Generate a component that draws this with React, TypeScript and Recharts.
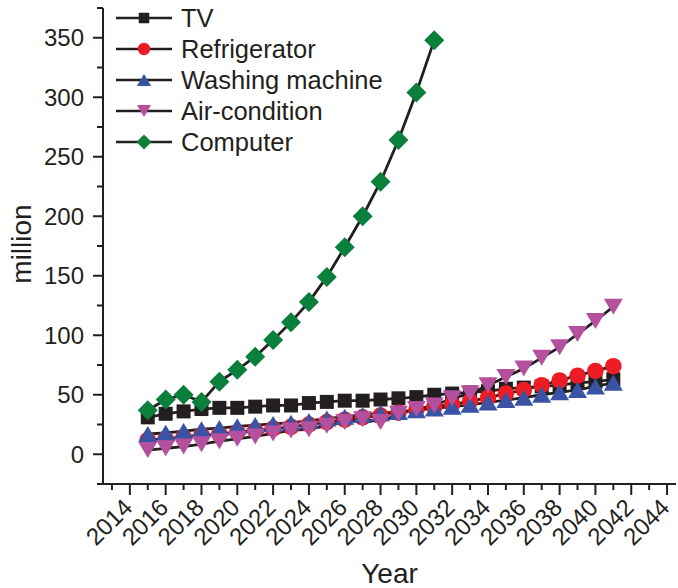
import React from 'react';
import { LineChart, Line, XAxis, YAxis, Legend } from 'recharts';

const years = [
  2015, 2016, 2017, 2018, 2019, 2020, 2021, 2022, 2023, 2024, 2025, 2026, 2027, 2028,
  2029, 2030, 2031, 2032, 2033, 2034, 2035, 2036, 2037, 2038, 2039, 2040, 2041,
];
const tv = [31, 34, 36, 38, 39, 39, 40, 41, 41, 43, 44, 45, 45, 46, 47, 48, 50, 51, 52, 53, 55, 56, 57, 58, 60, 61, 63];
const refrigerator = [12, 13, 14.5, 16, 17, 18.5, 20, 21.5, 23, 25, 27, 29, 31, 32.5, 35, 37.5, 40, 42, 44.5, 47.5, 51, 54, 58, 62, 66, 70, 74];
const washingMachine = [17, 18, 19.5, 21, 22, 23.5, 24.5, 25.5, 26.5, 28, 30, 31.5, 33, 34.5, 35.5, 37, 38.5, 40, 41.5, 43.5, 45.5, 47.5, 50, 52, 54, 57, 60];
const airCondition = [3.5, 5, 6.5, 8.5, 11, 13, 15, 17.5, 20, 21, 24, 27, 29.5, 27, 34, 38, 41, 47, 51, 58, 65, 72, 81, 90, 101, 112, 124];
const computer = [37, 46, 50, 44, 61, 71, 82, 96, 111, 128, 149, 174, 200, 229, 264, 304, 348];

const yTicks = [-25, 0, 25, 50, 75, 100, 125, 150, 175, 200, 225, 250, 275, 300, 325, 350, 375];
const xTicks = [
  2013, 2014, 2015, 2016, 2017, 2018, 2019, 2020, 2021, 2022, 2023, 2024, 2025, 2026, 2027, 2028,
  2029, 2030, 2031, 2032, 2033, 2034, 2035, 2036, 2037, 2038, 2039, 2040, 2041, 2042, 2043, 2044,
];

const FONT = '"Liberation Sans", Arial, Helvetica, sans-serif';
const INK = '#231f20';

type Shape = 'square' | 'circle' | 'up' | 'down' | 'diamond';

const series: { key: string; name: string; values: number[]; color: string; shape: Shape }[] = [
  { key: 'tv', name: 'TV', values: tv, color: '#231f20', shape: 'square' },
  { key: 'refrigerator', name: 'Refrigerator', values: refrigerator, color: '#ed1c24', shape: 'circle' },
  { key: 'washing', name: 'Washing machine', values: washingMachine, color: '#3a53a4', shape: 'up' },
  { key: 'air', name: 'Air-condition', values: airCondition, color: '#b5509f', shape: 'down' },
  { key: 'computer', name: 'Computer', values: computer, color: '#0b7f3c', shape: 'diamond' },
];

const data = years.map((year, i) => {
  const row: Record<string, number> = { year };
  series.forEach((s) => {
    if (i < s.values.length) row[s.key] = s.values[i];
  });
  return row;
});

function Marker({ shape, color, cx, cy, scale = 1 }: { shape: Shape; color: string; cx: number; cy: number; scale?: number }) {
  if (shape === 'square') {
    const s = 14 * scale;
    return <rect x={cx - s / 2} y={cy - s / 2} width={s} height={s} fill={color} />;
  }
  if (shape === 'circle') {
    return <circle cx={cx} cy={cy} r={8.3 * scale} fill={color} />;
  }
  if (shape === 'up') {
    const w = 19 * scale;
    const h = 16 * scale;
    return <polygon points={`${cx - w / 2},${cy + h / 2} ${cx + w / 2},${cy + h / 2} ${cx},${cy - h / 2}`} fill={color} />;
  }
  if (shape === 'down') {
    const w = 19 * scale;
    const h = 16 * scale;
    return <polygon points={`${cx - w / 2},${cy - h / 2} ${cx + w / 2},${cy - h / 2} ${cx},${cy + h / 2}`} fill={color} />;
  }
  const d = 10 * scale;
  return <polygon points={`${cx},${cy - d} ${cx + d},${cy} ${cx},${cy + d} ${cx - d},${cy}`} fill={color} />;
}

const YTick = (props: any) => {
  const { x, y, payload } = props;
  const major = payload.value % 50 === 0;
  const len = major ? 10 : 6;
  return (
    <g>
      <line x1={x - len} x2={x} y1={y} y2={y} stroke={INK} strokeWidth={2} />
      {major && (
        <text x={x - len - 9} y={y} dy="0.36em" textAnchor="end" fontSize={24} fill={INK} fontFamily={FONT}>
          {payload.value}
        </text>
      )}
    </g>
  );
};

const XTick = (props: any) => {
  const { x, y, payload } = props;
  const major = payload.value % 2 === 0;
  const len = major ? 11 : 6;
  const px = x + 4;
  const py = y + 25;
  return (
    <g>
      <line x1={x} x2={x} y1={y} y2={y + len} stroke={INK} strokeWidth={2} />
      {major && (
        <text x={px} y={py} textAnchor="end" transform={`rotate(-45 ${px} ${py})`} fontSize={24} fill={INK} fontFamily={FONT}>
          {payload.value}
        </text>
      )}
    </g>
  );
};

const renderLegend = () => (
  <svg width={420} height={160} style={{ display: 'block' }}>
    {series.map((s, i) => {
      const cy = 18 + i * 31;
      return (
        <g key={s.key}>
          <line x1={116} x2={172} y1={cy} y2={cy} stroke={INK} strokeWidth={2.5} />
          <Marker shape={s.shape} color={s.color} cx={144} cy={cy} scale={0.75} />
          <text x={181} y={cy} dy="0.36em" fontSize={25.5} fill={INK} fontFamily={FONT}>
            {s.name}
          </text>
        </g>
      );
    })}
  </svg>
);

const YTitle = (props: any) => {
  const vb = props.viewBox || {};
  const cy = (vb.y || 0) + (vb.height || 0) / 2 - 2;
  return (
    <text x={31} y={cy} textAnchor="middle" transform={`rotate(-90 31 ${cy})`} fontSize={28} fill={INK} fontFamily={FONT}>
      million
    </text>
  );
};

const XTitle = (props: any) => {
  const vb = props.viewBox || {};
  const cx = (vb.x || 0) + (vb.width || 0) / 2;
  return (
    <text x={cx} y={583} textAnchor="middle" fontSize={28} fill={INK} fontFamily={FONT}>
      Year
    </text>
  );
};

export default function App() {
  return (
    <div style={{ position: 'absolute', left: 0, top: 0, width: 678, height: 588, background: '#fff' }}>
      <LineChart width={678} height={588} data={data} margin={{ top: 8, right: 2, bottom: 0, left: 0 }}>
        <XAxis
          type="number"
          dataKey="year"
          domain={[2012.5, 2044.5]}
          ticks={xTicks}
          interval={0}
          allowDataOverflow
          height={104}
          tickLine={false}
          tickSize={0}
          tickMargin={0}
          tick={<XTick />}
          axisLine={{ stroke: INK, strokeWidth: 2 }}
          label={<XTitle />}
        />
        <YAxis
          type="number"
          domain={[-25, 375]}
          ticks={yTicks}
          interval={0}
          allowDataOverflow
          width={103}
          tickLine={false}
          tickSize={0}
          tickMargin={0}
          tick={<YTick />}
          axisLine={{ stroke: INK, strokeWidth: 2 }}
          label={<YTitle />}
        />
        <Legend
          layout="horizontal"
          verticalAlign="middle"
          align="center"
          content={renderLegend}
          wrapperStyle={{ left: 0, top: 0, width: 420, height: 160 }}
        />
        {series.map((s) => (
          <Line
            key={s.key}
            dataKey={s.key}
            name={s.name}
            type="linear"
            stroke={INK}
            strokeWidth={2.8}
            isAnimationActive={false}
            connectNulls={false}
            dot={(p: any) =>
              p.cx == null || p.cy == null || p.value == null ? (
                <g key={`${s.key}-${p.index}`} />
              ) : (
                <Marker key={`${s.key}-${p.index}`} shape={s.shape} color={s.color} cx={p.cx} cy={p.cy} />
              )
            }
            activeDot={false}
          />
        ))}
      </LineChart>
    </div>
  );
}
